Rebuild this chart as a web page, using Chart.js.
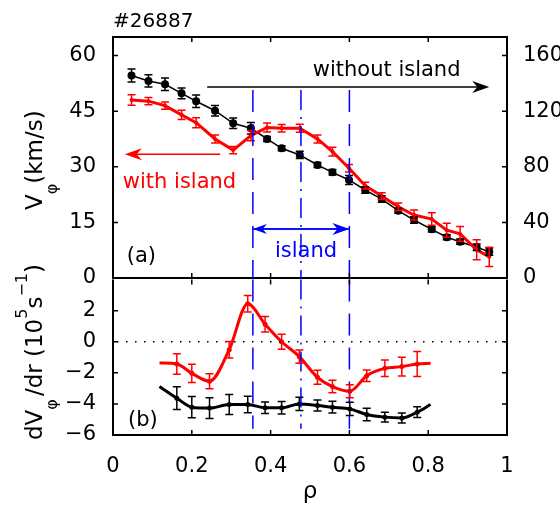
<!DOCTYPE html>
<html><head><meta charset="utf-8">
<script src="https://cdn.jsdelivr.net/npm/chart.js@4.4.0/dist/chart.umd.min.js"></script>
<style>
html,body{margin:0;padding:0;background:#fff;}
#wrap{position:relative;width:560px;height:508px;overflow:hidden;background:#fff;}
canvas{position:absolute;left:0;}
#cA{top:0;width:560px;height:300px;}
#cB{top:258px;width:560px;height:250px;}
</style></head><body>
<div id="wrap"><canvas id="cA" width="560" height="300"></canvas><canvas id="cB" width="560" height="250"></canvas></div>
<script>
// ---------- data ----------
const rhoTop = [0.047,0.090,0.132,0.174,0.211,0.259,0.305,0.350,0.391,0.428,0.474,0.519,0.557,0.599,0.640,0.682,0.724,0.764,0.809,0.847,0.881,0.923,0.955];
// without island (right axis)
const vWithout    = [145.6,141.7,139.3,132.8,127.1,120.3,111.3,107.7,100.0,93.3,88.5,81.3,76.0,70.5,63.3,56.8,48.4,41.7,35.0,29.3,26.1,22.1,18.9];
const vWithoutErr = [4.7,4.4,4.5,3.8,4.5,3.7,3.8,4.2,1.8,1.8,2.6,1.8,2.0,3.2,2.4,2.4,1.8,2.4,2.0,1.8,1.9,2.4,2.6];
// with island (left axis, km/s)
const vWith    = [48.0,47.7,46.5,44.0,41.9,37.5,34.5,38.4,40.6,40.4,40.4,37.5,34.1,29.6,24.9,22.1,19.2,17.0,15.9,12.9,11.9,7.6,5.7];
const vWithErr = [1.4,1.0,1.0,1.27,1.35,1.1,1.0,1.35,1.2,1.0,1.1,1.1,1.17,1.0,0.9,0.9,1.0,1.35,1.7,1.9,2.0,2.7,2.6];

const rhoBot = [0.118,0.162,0.200,0.245,0.295,0.342,0.386,0.428,0.473,0.519,0.557,0.601,0.644,0.690,0.733,0.772,0.806];
const dWith       = [-1.37,-1.43,-2.03,-2.54,-0.51,2.45,1.13,0.0,-0.96,-2.29,-2.88,-3.18,-2.18,-1.71,-1.60,-1.43,-1.39];
const dWithErr    = [null,0.66,0.59,0.48,0.53,0.53,0.50,0.48,0.43,0.45,0.40,0.42,0.37,0.53,0.60,0.80,null];
const dWithout    = [-2.88,-3.63,-4.21,-4.27,-4.04,-4.04,-4.25,-4.25,-4.00,-4.10,-4.21,-4.32,-4.68,-4.85,-4.90,-4.53,-4.04];
const dWithoutErr = [null,0.73,0.68,0.67,0.64,0.53,0.37,0.40,0.43,0.36,0.38,0.43,0.40,0.32,0.32,0.34,null];

const xTicks = [0,0.2,0.4,0.6,0.8,1];
const yTicksTop = [0,15,30,45,60];
const yTicksRight = [0,40,80,120,160];
const yTicksBot = [-6,-4,-2,0,2];
const islandRho = [0.355,0.477,0.600];

// ---------- helpers ----------
const FONT = '"DejaVu Sans", sans-serif';
const BLUE = '#0000ff', RED = '#ff0000';
const TICKSIZE = 21;

function arrowHead(ctx, tx, ty, dir, L, W) {
  ctx.beginPath();
  ctx.moveTo(tx, ty);
  ctx.lineTo(tx - dir * L, ty - W);
  ctx.lineTo(tx - dir * L * 0.7, ty);
  ctx.lineTo(tx - dir * L, ty + W);
  ctx.closePath();
  ctx.fill();
}
function errBars(chart, idx, errs, yId, color) {
  const ctx = chart.ctx, meta = chart.getDatasetMeta(idx), ys = chart.scales[yId];
  const ds = chart.data.datasets[idx];
  ctx.save(); ctx.strokeStyle = color; ctx.lineWidth = 1.5;
  meta.data.forEach((pt, j) => {
    const e = errs[j]; if (e == null) return;
    const v = ds.data[j].y;
    const y1 = ys.getPixelForValue(v + e), y2 = ys.getPixelForValue(v - e);
    ctx.beginPath();
    ctx.moveTo(pt.x, y1); ctx.lineTo(pt.x, y2);
    ctx.moveTo(pt.x - 4, y1); ctx.lineTo(pt.x + 4, y1);
    ctx.moveTo(pt.x - 4, y2); ctx.lineTo(pt.x + 4, y2);
    ctx.stroke();
  });
  ctx.restore();
}
function frame(chart, leftId, leftT, rightId, rightT, skipTop) {
  const ctx = chart.ctx, a = chart.chartArea, xs = chart.scales.x;
  ctx.save(); ctx.strokeStyle = '#000'; ctx.lineWidth = 1.5;
  ctx.beginPath();
  xTicks.slice(1, -1).forEach(v => {
    const px = xs.getPixelForValue(v);
    ctx.moveTo(px, a.bottom); ctx.lineTo(px, a.bottom - 5);
    ctx.moveTo(px, a.top); ctx.lineTo(px, a.top + 5);
  });
  leftT.forEach(v => { const py = chart.scales[leftId].getPixelForValue(v); ctx.moveTo(a.left, py); ctx.lineTo(a.left + 5, py); });
  rightT.forEach(v => { const py = chart.scales[rightId].getPixelForValue(v); ctx.moveTo(a.right, py); ctx.lineTo(a.right - 5, py); });
  ctx.stroke();
  ctx.lineWidth = 2;
  ctx.beginPath();
  if (skipTop) {
    ctx.moveTo(a.left, a.top); ctx.lineTo(a.left, a.bottom); ctx.lineTo(a.right, a.bottom); ctx.lineTo(a.right, a.top);
  } else {
    ctx.rect(a.left, a.top, a.right - a.left, a.bottom - a.top);
  }
  ctx.stroke();
  ctx.restore();
}
function rotParts(ctx, x, y, parts) {
  ctx.save(); ctx.translate(x, y); ctx.rotate(-Math.PI / 2);
  ctx.fillStyle = '#000'; ctx.textBaseline = 'alphabetic'; ctx.textAlign = 'left';
  let cx = 0;
  parts.forEach(p => {
    ctx.font = p.s + 'px ' + FONT;
    ctx.fillText(p.t, cx, p.dy || 0);
    cx += ctx.measureText(p.t).width + (p.g || 0);
  });
  ctx.restore();
}
function text(ctx, t, x, y, color, size, align) {
  ctx.save(); ctx.fillStyle = color; ctx.font = size + 'px ' + FONT;
  ctx.textAlign = align || 'left'; ctx.textBaseline = 'alphabetic';
  ctx.fillText(t, x, y); ctx.restore();
}
const minusFmt = v => (v < 0 ? '\u2212' + Math.abs(v) : String(v));

// ---------- top panel ----------
const decoA = {
  id: 'decoA',
  afterDatasetsDraw(chart) {
    const ctx = chart.ctx, a = chart.chartArea, xs = chart.scales.x, y = chart.scales.y;
    errBars(chart, 1, vWithoutErr, 'yR', '#000');
    errBars(chart, 0, vWithErr, 'y', RED);
    // island boundaries
    ctx.save(); ctx.strokeStyle = BLUE; ctx.lineWidth = 1.5;
    islandRho.forEach((r, i) => {
      ctx.setLineDash(i === 1 ? [20, 7, 2, 7] : [22, 12]);
      const px = xs.getPixelForValue(r);
      ctx.beginPath(); ctx.moveTo(px, y.getPixelForValue(50.7)); ctx.lineTo(px, a.bottom); ctx.stroke();
    });
    ctx.setLineDash([]);
    // arrows
    const arrow = (r1, r2, v, color, both) => {
      ctx.strokeStyle = color; ctx.fillStyle = color; ctx.lineWidth = 1.5;
      const x1 = xs.getPixelForValue(r1), x2 = xs.getPixelForValue(r2), py = y.getPixelForValue(v);
      const dir = x2 > x1 ? 1 : -1;
      ctx.beginPath(); ctx.moveTo(x1, py); ctx.lineTo(x2 - dir * 6, py); ctx.stroke();
      arrowHead(ctx, x2, py, dir, 17, 6);
      if (both) { ctx.beginPath(); ctx.moveTo(x1 + dir * 6, py); ctx.lineTo(x2, py); ctx.stroke(); arrowHead(ctx, x1, py, -dir, 14, 5); }
    };
    arrow(0.239, 0.955, 51.5, '#000', false);
    arrow(0.272, 0.030, 33.4, RED, false);
    arrow(0.355, 0.600, 13.2, BLUE, true);
    ctx.restore();
    text(ctx, 'without island', xs.getPixelForValue(0.507), y.getPixelForValue(54.5), '#000', 21);
    text(ctx, 'with island', xs.getPixelForValue(0.025), y.getPixelForValue(24.3), RED, 21);
    text(ctx, 'island', xs.getPixelForValue(0.411), y.getPixelForValue(5.74), BLUE, 21);
    text(ctx, '(a)', xs.getPixelForValue(0.035), y.getPixelForValue(4.3), '#000', 21);
    text(ctx, '#26887', xs.getPixelForValue(0), a.top - 10, '#000', 20);
    frame(chart, 'y', yTicksTop.slice(1), 'yR', yTicksRight.slice(1), false);
    rotParts(ctx, 42, 210, [{t:'V', s:23}, {t:'\u03c6', s:16, dy:15}, {t:'(km/s)', s:23}]);
  }
};

new Chart(document.getElementById('cA'), {
  type: 'line',
  data: { datasets: [
    { data: rhoTop.map((r, i) => ({x: r, y: vWith[i]})), yAxisID: 'y',
      borderColor: RED, backgroundColor: RED, borderWidth: 3, pointRadius: 2, pointBorderWidth: 0, tension: 0 },
    { data: rhoTop.map((r, i) => ({x: r, y: vWithout[i]})), yAxisID: 'yR',
      borderColor: '#000', backgroundColor: '#000', borderWidth: 1.5, pointRadius: 4, pointBorderWidth: 0, tension: 0 }
  ]},
  options: {
    responsive: false, animation: false, devicePixelRatio: 1, events: [],
    layout: { padding: { top: 37, bottom: 22, left: 0, right: 0 } },
    plugins: { legend: { display: false }, tooltip: { enabled: false } },
    scales: {
      x: { type: 'linear', min: 0, max: 1, display: false },
      y: { type: 'linear', position: 'left', min: 0, max: 65,
        afterBuildTicks: s => { s.ticks = yTicksTop.map(v => ({value: v})); },
        afterFit: s => { s.width = 113; },
        grid: { display: false }, border: { display: false },
        ticks: { padding: 9, color: '#000', font: { family: FONT, size: TICKSIZE } } },
      yR: { type: 'linear', position: 'right', min: 0, max: 173.333,
        afterBuildTicks: s => { s.ticks = yTicksRight.map(v => ({value: v})); },
        afterFit: s => { s.width = 53; },
        grid: { display: false }, border: { display: false },
        ticks: { padding: 8, color: '#000', font: { family: FONT, size: TICKSIZE } } }
    }
  },
  plugins: [decoA]
});

// ---------- bottom panel ----------
const decoB = {
  id: 'decoB',
  afterDatasetsDraw(chart) {
    const ctx = chart.ctx, a = chart.chartArea, xs = chart.scales.x, y = chart.scales.y;
    // zero line
    ctx.save(); ctx.strokeStyle = '#000'; ctx.lineWidth = 1.5; ctx.setLineDash([1.5, 7.5]);
    const py0 = y.getPixelForValue(0);
    ctx.beginPath(); ctx.moveTo(a.left + 4, py0); ctx.lineTo(a.right, py0); ctx.stroke();
    ctx.strokeStyle = BLUE;
    islandRho.forEach((r, i) => {
      ctx.setLineDash(i === 1 ? [20, 7, 2, 7] : [22, 12]);
      const px = xs.getPixelForValue(r);
      ctx.beginPath(); ctx.moveTo(px, a.top); ctx.lineTo(px, y.getPixelForValue(-5.6)); ctx.stroke();
    });
    ctx.restore();
    errBars(chart, 1, dWithoutErr, 'y', '#000');
    errBars(chart, 0, dWithErr, 'y', RED);
    text(ctx, '(b)', xs.getPixelForValue(0.038), y.getPixelForValue(-5.45), '#000', 21);
    text(ctx, '\u03c1', xs.getPixelForValue(0.5), a.bottom + 63, '#000', 23, 'center');
    frame(chart, 'y', [-4, -2, 0, 2], 'y', [-4, -2, 0, 2], true);
    rotParts(ctx, 42, 440 - 258, [{t:'dV', s:23}, {t:'\u03c6', s:16, dy:15, g:3}, {t:'/dr (10', s:23},
      {t:'5', s:16, dy:-15}, {t:'s', s:23}, {t:'\u22121', s:16, dy:-15}, {t:')', s:23}]);
  }
};

new Chart(document.getElementById('cB'), {
  type: 'line',
  data: { datasets: [
    { data: rhoBot.map((r, i) => ({x: r, y: dWith[i]})), yAxisID: 'y',
      borderColor: RED, backgroundColor: RED, borderWidth: 3, pointBorderWidth: 0,
      pointRadius: c => (dWithErr[c.dataIndex] == null ? 0 : 2.5), cubicInterpolationMode: 'monotone' },
    { data: rhoBot.map((r, i) => ({x: r, y: dWithout[i]})), yAxisID: 'y',
      borderColor: '#000', backgroundColor: '#000', borderWidth: 3, pointBorderWidth: 0,
      pointRadius: c => (dWithoutErr[c.dataIndex] == null ? 0 : 2.5), cubicInterpolationMode: 'monotone' }
  ]},
  options: {
    responsive: false, animation: false, devicePixelRatio: 1, events: [],
    layout: { padding: { top: 20, bottom: 0, left: 0, right: 53 } },
    plugins: { legend: { display: false }, tooltip: { enabled: false } },
    scales: {
      x: { type: 'linear', min: 0, max: 1,
        afterBuildTicks: s => { s.ticks = xTicks.map(v => ({value: v})); },
        afterFit: s => { s.height = 73; },
        grid: { display: false }, border: { display: false },
        ticks: { padding: 11, color: '#000', maxRotation: 0, font: { family: FONT, size: TICKSIZE },
          callback: v => String(v) } },
      y: { type: 'linear', position: 'left', min: -6, max: 4,
        afterBuildTicks: s => { s.ticks = yTicksBot.map(v => ({value: v})); },
        afterFit: s => { s.width = 113; },
        grid: { display: false }, border: { display: false },
        ticks: { padding: 9, color: '#000', font: { family: FONT, size: TICKSIZE }, callback: minusFmt } }
    }
  },
  plugins: [decoB]
});
</script>
</body></html>
